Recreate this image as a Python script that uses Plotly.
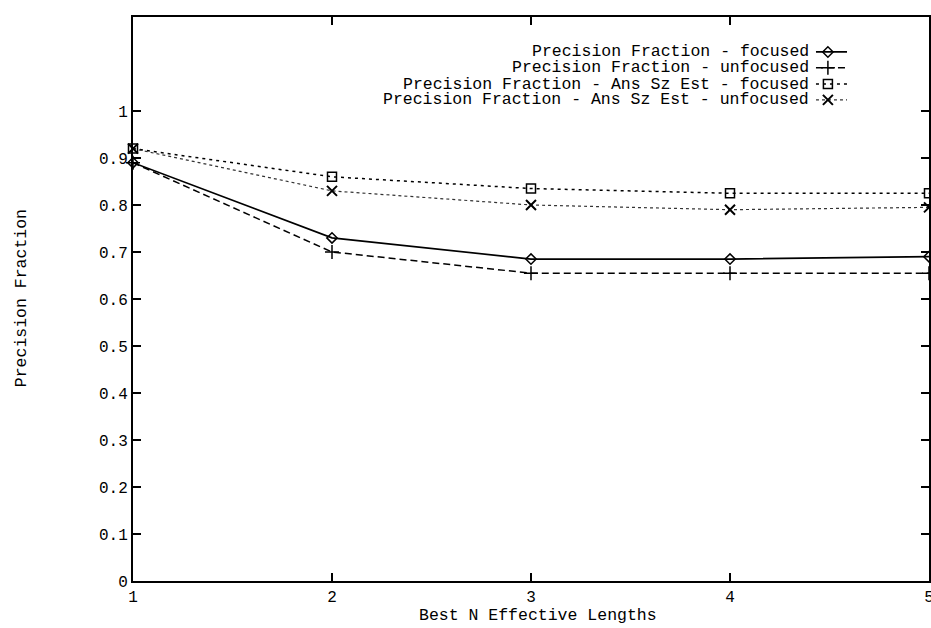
import plotly.graph_objects as go

# ---- data ----
x_vals = [1, 2, 3, 4, 5]
focused = [0.89, 0.73, 0.685, 0.685, 0.69]
unfocused = [0.89, 0.70, 0.655, 0.655, 0.655]
ans_focused = [0.92, 0.86, 0.835, 0.825, 0.825]
ans_unfocused = [0.92, 0.83, 0.80, 0.79, 0.795]
series_names = [
    "Precision Fraction - focused",
    "Precision Fraction - unfocused",
    "Precision Fraction - Ans Sz Est - focused",
    "Precision Fraction - Ans Sz Est - unfocused",
]
y_tickvals = [0, 0.1, 0.2, 0.3, 0.4, 0.5, 0.6, 0.7, 0.8, 0.9, 1]
y_ticktext = ["0", "0.1", "0.2", "0.3", "0.4", "0.5", "0.6", "0.7", "0.8", "0.9", "1"]
x_ticktext = ["1", "2", "3", "4", "5"]
x_title = "Best N Effective Lengths"
y_title = "Precision Fraction"

FONT = "Liberation Mono, Courier New, monospace"
styles = [
    dict(line=dict(color="black", width=1.7, dash="solid"),
         marker=dict(symbol="diamond-open", size=8, color="black", line=dict(width=1.5, color="black"))),
    dict(line=dict(color="black", width=1.5, dash="7px,4px"),
         marker=dict(symbol="cross-thin-open", size=10, color="black", line=dict(width=1.5, color="black"))),
    dict(line=dict(color="black", width=1.5, dash="3px,4px"),
         marker=dict(symbol="square-open", size=9, color="black", line=dict(width=1.5, color="black"))),
    dict(line=dict(color="#333333", width=1.2, dash="dot"),
         marker=dict(symbol="x-thin-open", size=10, color="black", line=dict(width=2, color="black"))),
]
series = [focused, unfocused, ans_focused, ans_unfocused]

fig = go.Figure()
for name, ys, st in zip(series_names, series, styles):
    fig.add_trace(go.Scatter(x=x_vals, y=ys, mode="lines+markers", name=name,
                             line=st["line"], marker=st["marker"], showlegend=False,
                             cliponaxis=False))

# ---- custom gnuplot-style legend (text right-aligned, key on right) ----
legend_text_x = 0.852
legend_rows_y = [0.938, 0.910, 0.881, 0.853]
key_x = [0.858, 0.873, 0.897]
for name, ly, st in zip(series_names, legend_rows_y, styles):
    fig.add_annotation(x=legend_text_x, y=ly, xref="paper", yref="paper", text=name,
                       showarrow=False, xanchor="right", yanchor="middle",
                       font=dict(family=FONT, size=16.5, color="black"))
    fig.add_trace(go.Scatter(x=[key_x[0], key_x[2]], y=[ly, ly], mode="lines",
                             line=st["line"], xaxis="x2", yaxis="y2", showlegend=False,
                             hoverinfo="skip"))
    fig.add_trace(go.Scatter(x=[key_x[1]], y=[ly], mode="markers",
                             marker=st["marker"], xaxis="x2", yaxis="y2", showlegend=False,
                             hoverinfo="skip"))

# axis titles
fig.add_annotation(x=0.509, y=-0.062, xref="paper", yref="paper", text=x_title,
                   showarrow=False, xanchor="center", yanchor="middle",
                   font=dict(family=FONT, size=16.5, color="black"))
fig.add_annotation(x=-0.139, y=0.502, xref="paper", yref="paper", text=y_title,
                   showarrow=False, xanchor="center", yanchor="middle", textangle=-90,
                   font=dict(family=FONT, size=16.5, color="black"))

fig.update_layout(
    width=931, height=628,
    margin=dict(l=133, r=2, t=17, b=47, autoexpand=False),
    paper_bgcolor="white", plot_bgcolor="white",
    font=dict(family=FONT, size=16, color="black"),
    xaxis=dict(range=[1, 5], tickvals=x_vals, ticktext=x_ticktext,
               ticks="inside", ticklen=8, tickwidth=1.5, tickcolor="black",
               showline=True, linecolor="black", linewidth=2, mirror="ticks",
               showgrid=False, zeroline=False, automargin=False,
               ticklabeloverflow="allow"),
    yaxis=dict(range=[0, 1.2], tickvals=y_tickvals, ticktext=y_ticktext,
               ticks="inside", ticklen=8, tickwidth=1.5, tickcolor="black",
               showline=True, linecolor="black", linewidth=2, mirror="ticks",
               showgrid=False, zeroline=False, automargin=False),
    xaxis2=dict(range=[0, 1], overlaying="x", visible=False),
    yaxis2=dict(range=[0, 1], overlaying="y", visible=False),
)

fig.write_html(
    "out.html",
    config={"displayModeBar": False},
    post_script="document.body.style.margin='0px';document.body.style.overflow='hidden';",
)
